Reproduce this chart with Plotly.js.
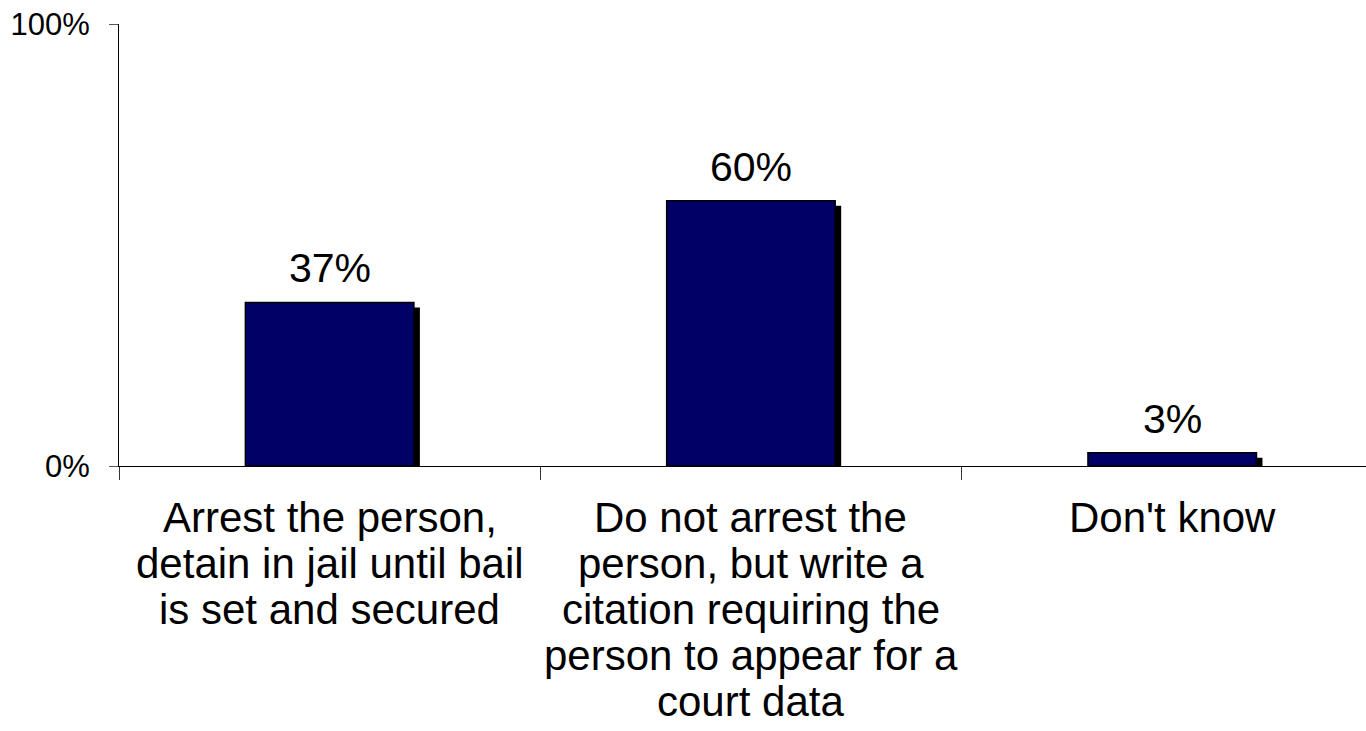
<!DOCTYPE html>
<html>
<head>
<meta charset="utf-8">
<script src="https://cdn.plot.ly/plotly-3.0.1.min.js"></script>
<style>html,body{margin:0;padding:0;background:#fff;}#chart{width:1366px;height:731px;}</style>
</head>
<body>
<div id="chart"></div>
<script>
const categories = [
  "Arrest the person,<br>detain in jail until bail<br>is set and secured",
  "Do not arrest the<br>person, but write a<br>citation requiring the<br>person to appear for a<br>court data",
  "Don't know"
];
const values = [0.37, 0.60, 0.03];
const yTickVals = [0, 1];
const yTickText = ["0%", "100%"];

const W = 1366, H = 731;
const margin = {l: 119, r: 0, t: 24, b: 265};
const xRange = [-0.5, 2.46];
const yRange = [0, 1];
const barWidth = 0.4;
const shadowPx = {x: 6, y: 5};
const FONT = "Liberation Sans, Arial, sans-serif";

const plotW = W - margin.l - margin.r;
const plotH = H - margin.t - margin.b;
const dx = shadowPx.x * (xRange[1] - xRange[0]) / plotW;
const dy = shadowPx.y * (yRange[1] - yRange[0]) / plotH;

const shadow = {
  type: 'bar', x: categories, y: values, xaxis: 'x', yaxis: 'y',
  width: barWidth, marker: {color: '#000000'}, hoverinfo: 'skip', showlegend: false
};
const main = {
  type: 'bar', x: categories, y: values, xaxis: 'x2', yaxis: 'y2',
  width: barWidth, marker: {color: '#000066', line: {color: '#000000', width: 1.5}},
  hoverinfo: 'skip', showlegend: false
};

const annotations = [];
values.forEach((v, i) => {
  annotations.push({
    x: categories[i], y: v, xref: 'x2', yref: 'y2',
    text: Math.round(v * 100) + '%', showarrow: false,
    xanchor: 'center', yanchor: 'bottom', yshift: 9,
    font: {family: FONT, size: 41, color: '#000'}
  });
});
categories.forEach((c, i) => {
  c.split('<br>').forEach((line, j) => {
    annotations.push({
      x: c, y: 0, xref: 'x2', yref: 'paper',
      text: line, showarrow: false,
      xanchor: 'center', yanchor: 'middle', yshift: -51 - 46 * j,
      font: {family: FONT, size: 42, color: '#000'}
    });
  });
});

const layout = {
  width: W, height: H, margin: margin,
  paper_bgcolor: '#fff', plot_bgcolor: '#fff',
  showlegend: false, barmode: 'overlay',
  xaxis: {type: 'category', range: [xRange[0] - dx, xRange[1] - dx], visible: false, fixedrange: true},
  yaxis: {range: [yRange[0] + dy, yRange[1] + dy], visible: false, fixedrange: true},
  xaxis2: {
    type: 'category', overlaying: 'x', side: 'bottom', range: xRange,
    showline: true, linecolor: '#000', linewidth: 1,
    ticks: 'outside', tickson: 'boundaries', ticklen: 13, tickcolor: '#333', tickwidth: 1,
    showticklabels: false, showgrid: false, zeroline: false, fixedrange: true
  },
  yaxis2: {
    overlaying: 'y', side: 'left', range: yRange,
    tickvals: yTickVals, ticktext: yTickText,
    showline: true, linecolor: '#000', linewidth: 1,
    ticks: 'outside', ticklen: 9, tickcolor: '#555', tickwidth: 1,
    ticklabelstandoff: 13,
    tickfont: {family: FONT, size: 31, color: '#000'},
    showgrid: false, zeroline: false, fixedrange: true
  },
  annotations: annotations
};

Plotly.newPlot('chart', [shadow, main], layout, {staticPlot: true, displayModeBar: false});
</script>
</body>
</html>
